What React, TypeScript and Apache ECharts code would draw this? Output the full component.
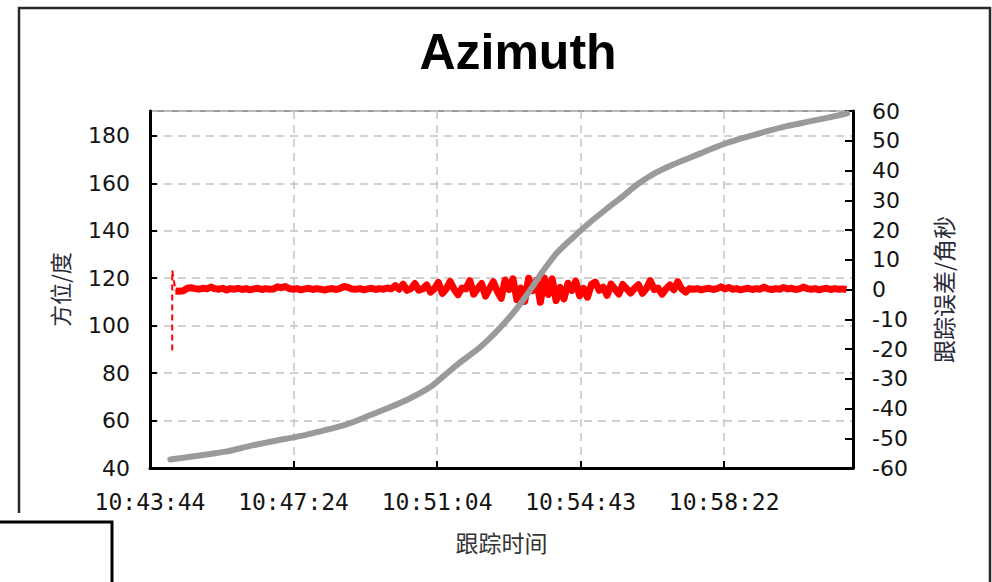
import React, { useEffect, useRef } from "react";
import * as echarts from "echarts";

// x axis: seconds elapsed since 10:43:44
const xTickLabels = ["10:43:44", "10:47:24", "10:51:04", "10:54:43", "10:58:22"];
const xTickStep = 219.5;
const xSpan = 1075;

// Azimuth track (degrees)
const azTimes = [31, 76, 118, 153, 194, 222, 255, 286, 310, 336, 367, 398, 428, 448, 469, 505, 535, 561, 581, 601, 622, 647, 673, 699, 723, 745, 769, 800, 830, 861, 882, 913, 944, 974, 1005, 1035, 1066];
const azValues = [43.6, 45.3, 47.0, 49.3, 51.6, 53.0, 55.1, 57.2, 59.3, 62.2, 65.6, 69.4, 74.0, 78.5, 83.4, 91.0, 99.0, 107.3, 114.8, 123.0, 130.6, 137.2, 143.6, 149.4, 154.5, 159.5, 163.8, 167.9, 171.3, 174.8, 177.0, 179.6, 182.0, 184.1, 185.9, 187.6, 189.5];

// Tracking error (arc-seconds): start transient
const spikeTimes = [34, 34, 36, 39];
const spikeValues = [-20.5, 6.4, 3.8, -0.5];

// Tracking error (arc-seconds): sampled every 6 s from t = 39 s
const errStart = 39;
const errStep = 6;
const errValues = [
  -0.5, -0.6, -0.4, 0.4, 0.6, 0.3, 0.1, 0.4, 0.2, 0.8,
  0.3, 0.1, 0.4, -0.2, 0.3, 0.1, 0.4, 0.0, 0.3, -0.1,
  0.2, 0.4, 0.0, 0.3, 0.1, 0.2, 0.9, 0.6, 1.0, 0.3,
  0.1, 0.3, -0.1, 0.2, 0.4, 0.0, 0.3, 0.1, -0.2, 0.2,
  0.3, 0.0, 0.4, 1.0, 0.7, 0.2, 0.1, 0.3, -0.1, 0.2,
  0.4, 0.0, 0.3, 0.1, 0.5, 0.2, 1.3, 0.1, 1.8, -0.3,
  0.3, 2.0, -0.2, 0.2, 1.5, -0.9, 0.3, 2.4, -1.3, 0.2,
  2.7, 0.1, -1.8, 0.5, 0.2, 3.0, -1.6, 0.3, 2.0, -2.2,
  0.2, 2.6, -0.6, -3.0, 3.2, 0.0, 3.6, -3.4, 0.5, -4.0,
  3.8, -0.4, 3.1, -4.3, 3.9, -1.7, 3.6, -3.7, 0.7, -3.2,
  2.1, -0.3, 2.8, -2.1, 0.4, -2.6, 1.7, 2.5, -0.3, 0.8,
  -2.0, 1.8, 0.1, -1.5, 1.7, 0.2, -1.2, 0.4, 1.6, -1.3,
  0.3, 3.0, 0.0, 0.5, -1.6, 0.2, 1.5, -0.1, 2.6, 0.2,
  -0.9, 0.3, 0.1, 0.3, -0.1, 0.2, 0.4, 0.0, 0.3, 0.9,
  0.2, 0.7, 0.1, 0.3, -0.1, 0.2, 0.4, 0.0, 0.3, 0.1,
  0.8, 0.2, 0.0, 0.3, 0.1, 0.7, 0.2, 0.4, 0.0, 0.2,
  0.8, 0.3, 0.1, 0.3, -0.1, 0.2, 0.4, 0.0, 0.3, 0.1, 0.2, 0.0,
];

const gridDash = { type: [8, 6] as any, width: 1.5, color: "#c4c4c4" };
const tickStyle = { color: "#000", width: 2 };
const labelColor = "#141414";
const cjkFont = "Noto Sans CJK SC";

export default function App() {
  const ref = useRef<HTMLDivElement>(null);
  useEffect(() => {
    if (!ref.current) return;
    const chart = echarts.init(ref.current, null, { renderer: "svg" });
    const azData = azTimes.map((t, i) => [t, azValues[i]]);
    const spikeData = spikeTimes.map((t, i) => [t, spikeValues[i]]);
    const errData = errValues.map((v, i) => [errStart + i * errStep, v]);
    chart.setOption({
      animation: false,
      backgroundColor: "#fff",
      graphic: [
        {
          type: "rect",
          silent: true,
          z: -10,
          shape: { x: 19, y: 8, width: 971, height: 640 },
          style: { fill: "none", stroke: "#2a2a2a", lineWidth: 2.5 },
        },
        {
          type: "text",
          silent: true,
          x: 518,
          y: 52,
          style: {
            text: "Azimuth",
            font: "bold 50px 'Liberation Sans'",
            fill: "#000",
            align: "center",
            verticalAlign: "middle",
          },
        },
        {
          type: "rect",
          silent: true,
          z: 100,
          shape: { x: 0, y: 513, width: 116, height: 80 },
          style: { fill: "#fff" },
        },
        {
          type: "rect",
          silent: true,
          z: 101,
          shape: { x: -5, y: 522, width: 117, height: 80 },
          style: { fill: "#fff", stroke: "#000", lineWidth: 3 },
        },
      ],
      grid: {
        left: 150,
        right: 139,
        top: 111,
        bottom: 114,
        show: true,
        borderColor: "#9a9a9a",
        borderWidth: 2,
        backgroundColor: "transparent",
      },
      xAxis: {
        type: "value",
        min: 0,
        max: xSpan,
        interval: xTickStep,
        name: "跟踪时间",
        nameLocation: "middle",
        nameGap: 62,
        nameTextStyle: { fontFamily: cjkFont, fontSize: 23, color: "#333" },
        axisLine: { show: true, onZero: false, lineStyle: { color: "#000", width: 3 } },
        axisTick: { show: true, inside: true, length: 7, lineStyle: tickStyle },
        axisLabel: {
          showMaxLabel: false,
          margin: 22,
          fontFamily: "DejaVu Sans Mono",
          fontSize: 23,
          color: labelColor,
          formatter: (v: number) => {
            const idx = Math.round(v / xTickStep);
            if (Math.abs(v - idx * xTickStep) > 1) return "";
            return xTickLabels[idx] ?? "";
          },
        },
        splitLine: { show: true, lineStyle: gridDash },
      },
      yAxis: [
        {
          type: "value",
          min: 40,
          max: 190.5,
          interval: 20,
          name: "方位/度",
          nameLocation: "middle",
          nameRotate: 90,
          nameGap: 80,
          nameTextStyle: { fontFamily: cjkFont, fontSize: 22, color: "#2a2a3a" },
          axisLine: { show: true, onZero: false, lineStyle: { color: "#000", width: 3 } },
          axisTick: { show: true, inside: true, length: 7, lineStyle: tickStyle },
          axisLabel: {
            showMaxLabel: false,
            margin: 20,
            fontFamily: "DejaVu Sans",
            fontSize: 22,
            color: labelColor,
          },
          splitLine: { show: true, lineStyle: gridDash },
        },
        {
          type: "value",
          position: "right",
          min: -60,
          max: 60,
          interval: 10,
          name: "跟踪误差/角秒",
          nameLocation: "middle",
          nameRotate: 90,
          nameGap: 78,
          nameTextStyle: { fontFamily: cjkFont, fontSize: 23, color: "#2a2a3a" },
          axisLine: { show: true, onZero: false, lineStyle: { color: "#000", width: 3 } },
          axisTick: { show: true, inside: true, length: 8, lineStyle: tickStyle },
          axisLabel: {
            margin: 19,
            fontFamily: "DejaVu Sans",
            fontSize: 22,
            color: labelColor,
          },
          splitLine: { show: false },
        },
      ],
      series: [
        {
          name: "跟踪误差",
          type: "line",
          yAxisIndex: 1,
          data: errData,
          showSymbol: false,
          symbol: "none",
          z: 2,
          lineStyle: { color: "#ff0000", width: 7, join: "round" },
        },
        {
          name: "初始误差",
          type: "line",
          yAxisIndex: 1,
          data: spikeData,
          showSymbol: false,
          symbol: "none",
          z: 2,
          lineStyle: { color: "#ff0000", width: 2, type: [6, 4] },
        },
        {
          name: "方位",
          type: "line",
          yAxisIndex: 0,
          data: azData,
          showSymbol: false,
          symbol: "none",
          smooth: 0.3,
          z: 3,
          lineStyle: { color: "#9a9a9a", width: 6, cap: "round" },
        },
      ],
    });
    return () => chart.dispose();
  }, []);
  return (
    <div
      ref={ref}
      style={{ position: "absolute", left: 0, top: 0, width: 992, height: 582 }}
    />
  );
}
